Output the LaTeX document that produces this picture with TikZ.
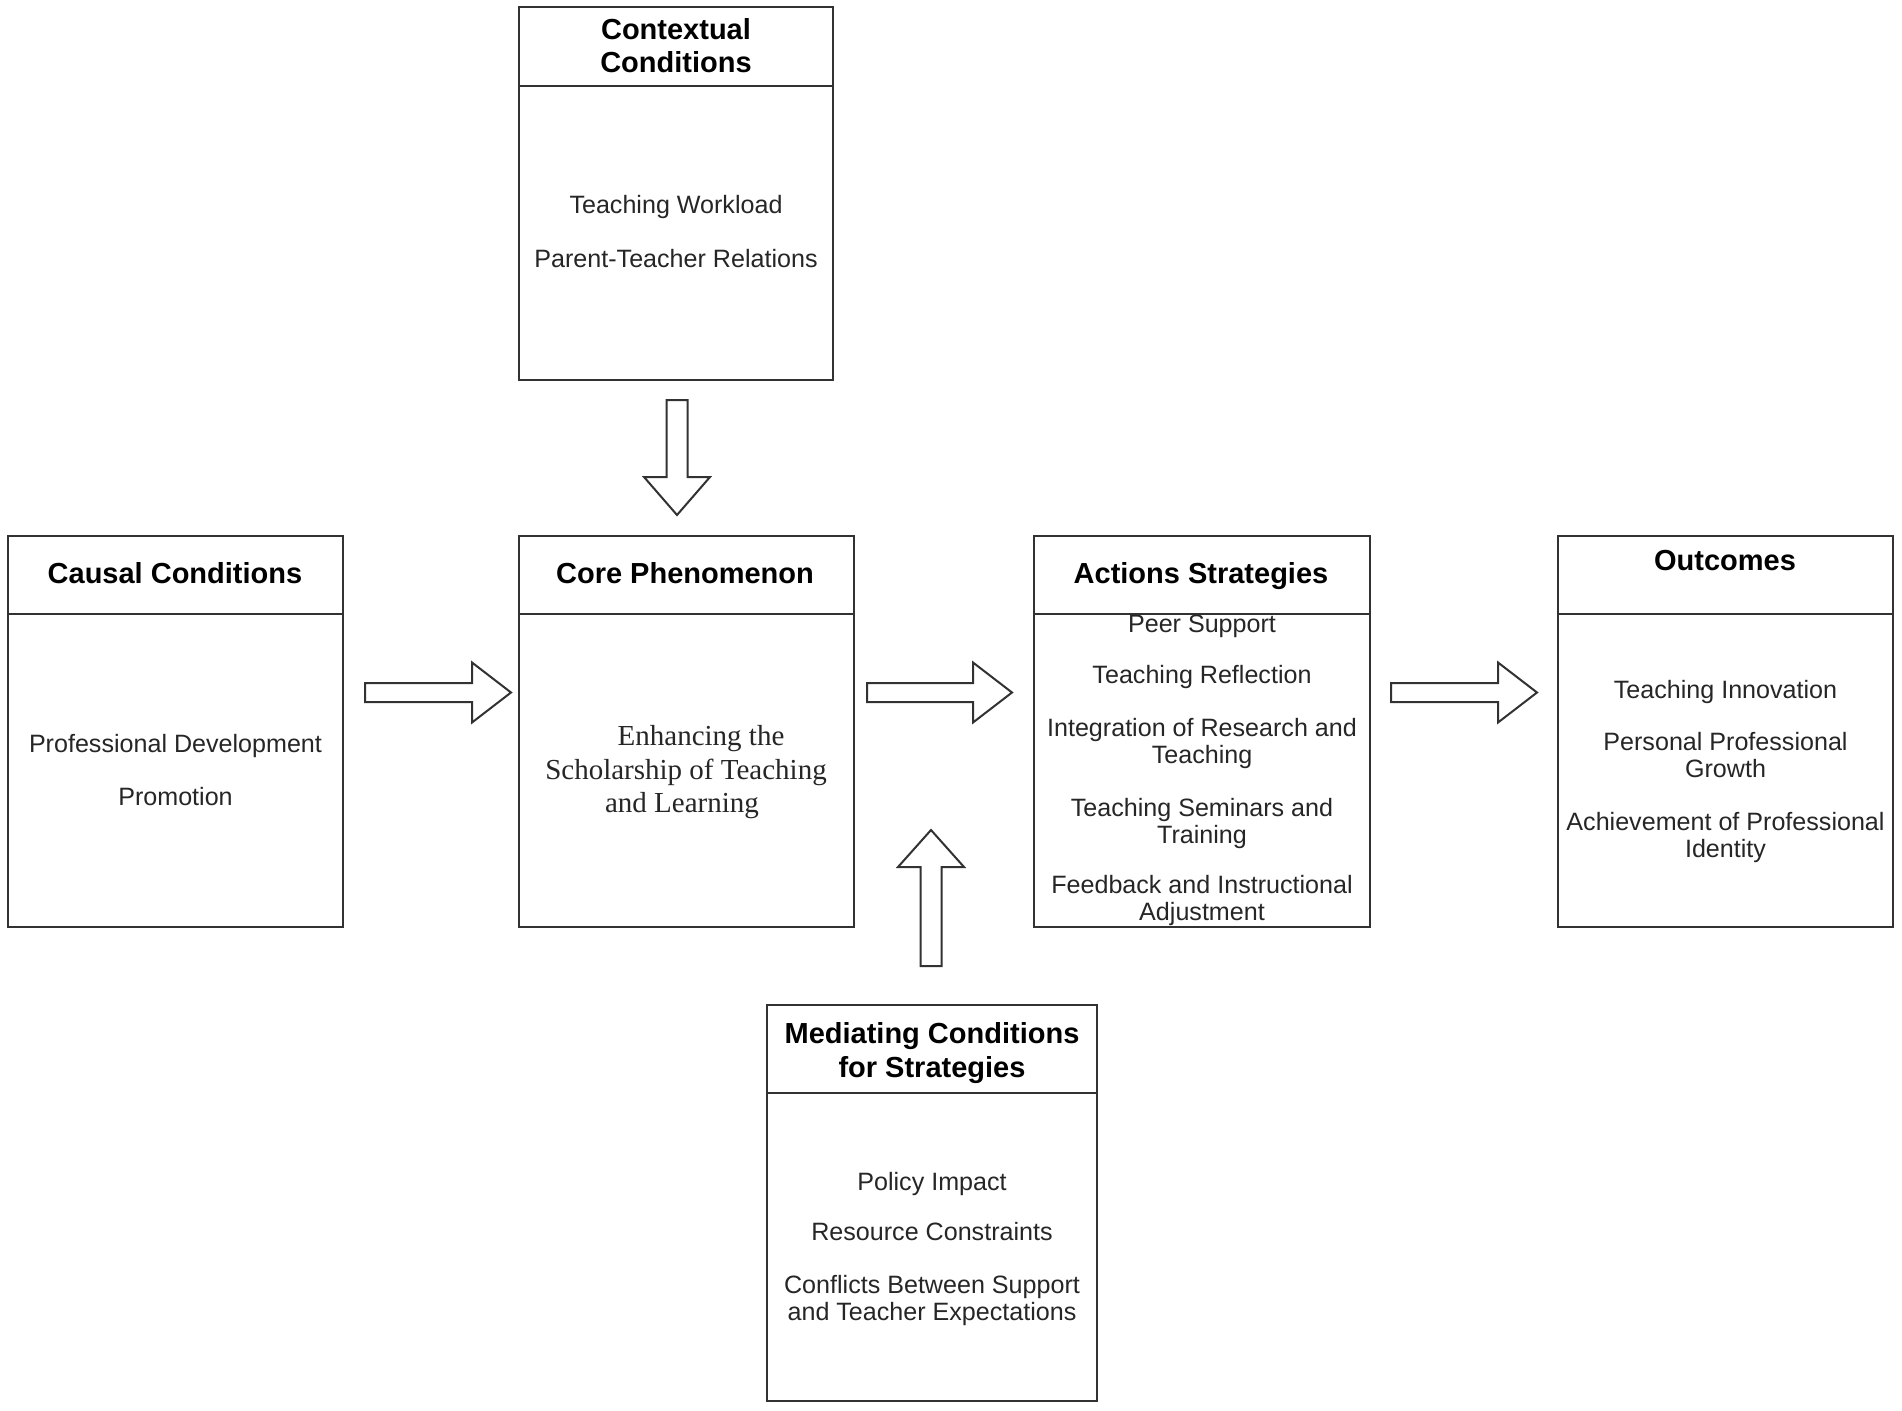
\documentclass[tikz,border=0pt]{standalone}
\usepackage{fontspec}
\setmainfont{Liberation Sans}
\newfontfamily\timesfont{Liberation Serif}
\usetikzlibrary{calc}
\definecolor{linec}{RGB}{50,50,50}
\definecolor{bodyc}{RGB}{38,38,38}
\tikzset{
  box/.style={draw=linec, line width=2.2pt, fill=none, inner sep=0pt, outer sep=0pt},
  hline/.style={draw=linec, line width=2.2pt},
  blk/.style={draw=linec, line width=2pt, fill=white, line join=miter},
  hd/.style={anchor=base, inner sep=0pt, text=black, font=\bfseries\fontsize{29}{33}\selectfont},
  bd/.style={anchor=base, inner sep=0pt, text=bodyc, font=\fontsize{25.1}{27}\selectfont},
  tm/.style={anchor=base, inner sep=0pt, text=bodyc, font=\timesfont\fontsize{29}{34}\selectfont}
}
\newcommand\hblk[2]{\draw[blk] ($(#1)+(0,-9.5)$) -- ($(#2)+(-39,-9.5)$) -- ($(#2)+(-39,-30)$) -- (#2) -- ($(#2)+(-39,30)$) -- ($(#2)+(-39,9.5)$) -- ($(#1)+(0,9.5)$) -- cycle;}
\newcommand\vblk[3]{\draw[blk] ($(#1)+(-10.5,0)$) -- ($(#2)+(-10.5,#3)$) -- ($(#2)+(-33,#3)$) -- (#2) -- ($(#2)+(33,#3)$) -- ($(#2)+(10.5,#3)$) -- ($(#1)+(10.5,0)$) -- cycle;}
\begin{document}
\begin{tikzpicture}[x=1pt,y=-1pt]
\useasboundingbox[fill=white] (0,0) rectangle (1902,1410);

% boxes
\node[box, minimum width=314pt, minimum height=373pt] (ctx) at (676,193.5) {};
\node[box, minimum width=335pt, minimum height=391pt] (causal) at (175.5,731.5) {};
\node[box, minimum width=335pt, minimum height=391pt] (core) at (686.5,731.5) {};
\node[box, minimum width=336pt, minimum height=391pt] (act) at (1202,731.5) {};
\node[box, minimum width=335pt, minimum height=391pt] (out) at (1725.5,731.5) {};
\node[box, minimum width=330pt, minimum height=396pt] (med) at (932,1203) {};

% header separators
\draw[hline] ($(ctx.north west)+(0,79)$) -- ($(ctx.north east)+(0,79)$);
\draw[hline] ($(causal.north west)+(0,78)$) -- ($(causal.north east)+(0,78)$);
\draw[hline] ($(core.north west)+(0,78)$) -- ($(core.north east)+(0,78)$);
\draw[hline] ($(act.north west)+(0,78)$) -- ($(act.north east)+(0,78)$);
\draw[hline] ($(out.north west)+(0,78)$) -- ($(out.north east)+(0,78)$);
\draw[hline] ($(med.north west)+(0,88)$) -- ($(med.north east)+(0,88)$);

% headers
\node[hd] (ctxh1) at (676,40) {Contextual};
\node[hd] (ctxh2) at (676,73) {Conditions};
\node[hd] (causalh) at (175,583) {Causal Conditions};
\node[hd] (coreh) at (685,583) {Core Phenomenon};
\node[hd] (acth) at (1201,583) {Actions Strategies};
\node[hd] (outh) at (1725,570) {Outcomes};
\node[hd] (medh1) at (932,1043) {Mediating Conditions};
\node[hd] (medh2) at (932,1077) {for Strategies};

% contextual body
\node[bd] (c1) at (676,213) {Teaching Workload};
\node[bd] (c2) at (676,267) {Parent-Teacher Relations};

% causal body
\node[bd] (k1) at (175.5,752) {Professional Development};
\node[bd] (k2) at (175.5,805) {Promotion};

% core body
\node[tm] (p1) at (701,745) {Enhancing the};
\node[tm] (p2) at (686,779) {Scholarship of Teaching};
\node[tm] (p3) at (682,812) {and Learning};

% actions body
\node[bd] (s1) at (1202,632) {Peer Support};
\node[bd] (s2) at (1202,683) {Teaching Reflection};
\node[bd] (s3a) at (1202,736) {Integration of Research and};
\node[bd] (s3b) at (1202,763) {Teaching};
\node[bd] (s4a) at (1202,816) {Teaching Seminars and};
\node[bd] (s4b) at (1202,843) {Training};
\node[bd] (s5a) at (1202,893) {Feedback and Instructional};
\node[bd] (s5b) at (1202,920) {Adjustment};

% outcomes body
\node[bd] (o1) at (1725.5,698) {Teaching Innovation};
\node[bd] (o2a) at (1725.5,750) {Personal Professional};
\node[bd] (o2b) at (1725.5,777) {Growth};
\node[bd] (o3a) at (1725.5,830) {Achievement of Professional};
\node[bd] (o3b) at (1725.5,857) {Identity};

% mediating body
\node[bd] (m1) at (932,1190) {Policy Impact};
\node[bd] (m2) at (932,1240) {Resource Constraints};
\node[bd] (m3a) at (932,1293) {Conflicts Between Support};
\node[bd] (m3b) at (932,1320) {and Teacher Expectations};

% arrow end points
\coordinate (a1s) at ($(causal.north east)+(22,156.5)$);
\coordinate (a1e) at ($(core.north west)+(-8,156.5)$);
\coordinate (a2s) at ($(core.north east)+(13,156.5)$);
\coordinate (a2e) at ($(act.north west)+(-22,156.5)$);
\coordinate (a3s) at ($(act.north east)+(21,156.5)$);
\coordinate (a3e) at ($(out.north west)+(-21,156.5)$);
\coordinate (dns) at ($(ctx.south)+(1,20)$);
\coordinate (dne) at ($(ctx.south |- core.north)+(1,-21)$);
\coordinate (ups) at ($(med.north)+(-1,-39)$);
\coordinate (upe) at ($(med.north)+(-1,-175)$);

% block arrows
\hblk{a1s}{a1e}
\hblk{a2s}{a2e}
\hblk{a3s}{a3e}
\vblk{dns}{dne}{-38}
\vblk{ups}{upe}{37}
\end{tikzpicture}
\end{document}
